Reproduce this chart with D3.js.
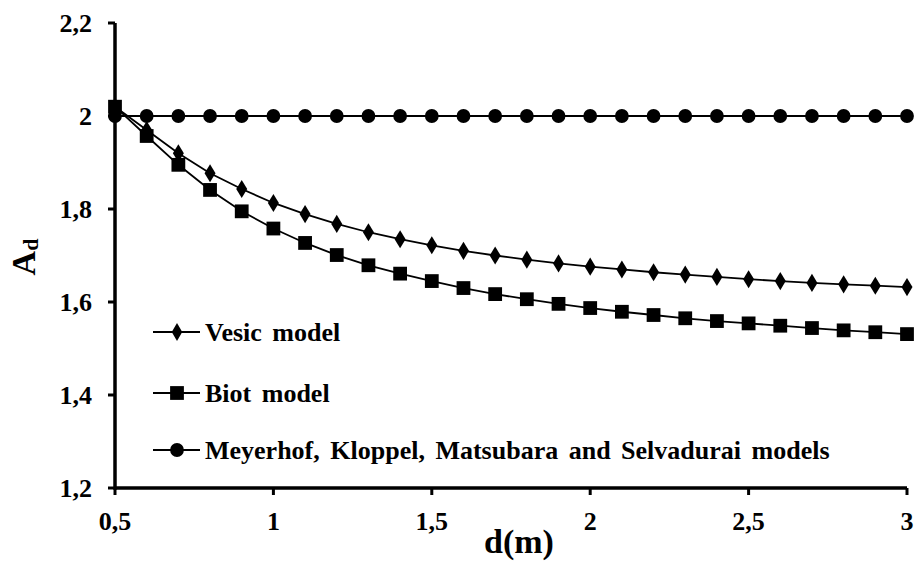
<!DOCTYPE html>
<html><head><meta charset="utf-8">
<script src="https://cdn.jsdelivr.net/npm/d3@7"></script>
<style>body{margin:0;background:#fff}svg{display:block}</style>
</head><body>
<script>
const depths = [0.5,0.6,0.7,0.8,0.9,1.0,1.1,1.2,1.3,1.4,1.5,1.6,1.7,1.8,1.9,2.0,2.1,2.2,2.3,2.4,2.5,2.6,2.7,2.8,2.9,3.0];
const vesic = [2.02,1.97,1.92,1.877,1.843,1.813,1.789,1.768,1.750,1.735,1.722,1.710,1.700,1.691,1.683,1.676,1.670,1.664,1.659,1.654,1.649,1.645,1.641,1.638,1.635,1.632];
const biot = [2.02,1.957,1.895,1.841,1.795,1.758,1.727,1.701,1.679,1.661,1.645,1.630,1.617,1.606,1.596,1.587,1.579,1.572,1.565,1.559,1.554,1.549,1.544,1.539,1.535,1.531];
const meyerhof = [2,2,2,2,2,2,2,2,2,2,2,2,2,2,2,2,2,2,2,2,2,2,2,2,2,2];
const xTicks = [0.5,1,1.5,2,2.5,3];
const yTicks = [1.2,1.4,1.6,1.8,2.0,2.2];
const xTickLabels = ["0,5","1","1,5","2","2,5","3"];
const yTickLabels = ["1,2","1,4","1,6","1,8","2","2,2"];
const seriesNames = ["Vesic model","Biot model","Meyerhof, Kloppel, Matsubara and Selvadurai models"];

const FONT = "Liberation Serif";
const W=916,H=562;
const svg=d3.select("body").append("svg").attr("width",W).attr("height",H);
const x=d3.scaleLinear().domain([0.5,3]).range([115,907]);
const y=d3.scaleLinear().domain([1.2,2.2]).range([488,23]);

const line=d3.line().x((d,i)=>x(depths[i])).y(d=>y(d));
const data=[vesic,biot,meyerhof];
const sym=[d3.symbolDiamond,d3.symbolSquare,d3.symbolCircle];
const size=[95,190,150];
data.forEach(s=>{
  svg.append("path").attr("d",line(s)).attr("fill","none").attr("stroke","#000").attr("stroke-width",1.8);
});
data.forEach((s,k)=>{
  s.forEach((v,i)=>{
    svg.append("path").attr("d",d3.symbol(sym[k],size[k])())
      .attr("transform",`translate(${x(depths[i])},${y(v)})${k===0?" scale(1.05,1)":""}`)
      .attr("fill","#000");
  });
});

// axes lines and ticks from the scales
svg.append("line").attr("x1",x(0.5)).attr("x2",x(3)).attr("y1",y(1.2)).attr("y2",y(1.2)).attr("stroke","#000").attr("stroke-width",3.5);
svg.append("line").attr("x1",x(0.5)).attr("x2",x(0.5)).attr("y1",y(1.2)+1.7).attr("y2",y(2.2)).attr("stroke","#000").attr("stroke-width",3.5);
xTicks.forEach((t,i)=>{
  svg.append("line").attr("x1",x(t)).attr("x2",x(t)).attr("y1",y(1.2)).attr("y2",y(1.2)+7).attr("stroke","#000").attr("stroke-width",3);
  svg.append("text").attr("x",x(t)).attr("y",530).attr("text-anchor","middle")
    .attr("font-family",FONT).attr("font-weight","bold").attr("font-size",26).attr("fill","#000").text(xTickLabels[i]);
});
yTicks.forEach((t,i)=>{
  svg.append("line").attr("x1",x(0.5)-7).attr("x2",x(0.5)).attr("y1",y(t)).attr("y2",y(t)).attr("stroke","#000").attr("stroke-width",3);
  svg.append("text").attr("x",92).attr("y",y(t)+9).attr("text-anchor","end")
    .attr("font-family",FONT).attr("font-weight","bold").attr("font-size",26).attr("fill","#000").text(yTickLabels[i]);
});

// legend
const ly=[332,393,450];
seriesNames.forEach((n,k)=>{
  svg.append("line").attr("x1",153).attr("x2",200).attr("y1",ly[k]).attr("y2",ly[k]).attr("stroke","#000").attr("stroke-width",1.8);
  svg.append("path").attr("d",d3.symbol(sym[k],size[k])()).attr("transform",`translate(177,${ly[k]})`).attr("fill","#000");
  svg.append("text").attr("x",205).attr("y",ly[k]+9)
    .attr("font-family",FONT).attr("font-weight","bold").attr("font-size",26).attr("word-spacing",4).attr("fill","#000").text(n);
});

// axis titles
svg.append("text").attr("x",519).attr("y",553).attr("text-anchor","middle")
  .attr("font-family",FONT).attr("font-weight","bold").attr("font-size",34).text("d(m)");
const yt=svg.append("text").attr("transform","translate(35,257) rotate(-90)").attr("text-anchor","middle")
  .attr("font-family",FONT).attr("font-weight","bold").attr("font-size",34);
yt.append("tspan").text("A");
yt.append("tspan").attr("dy","3").attr("font-size",22).text("d");
</script>
</body></html>
